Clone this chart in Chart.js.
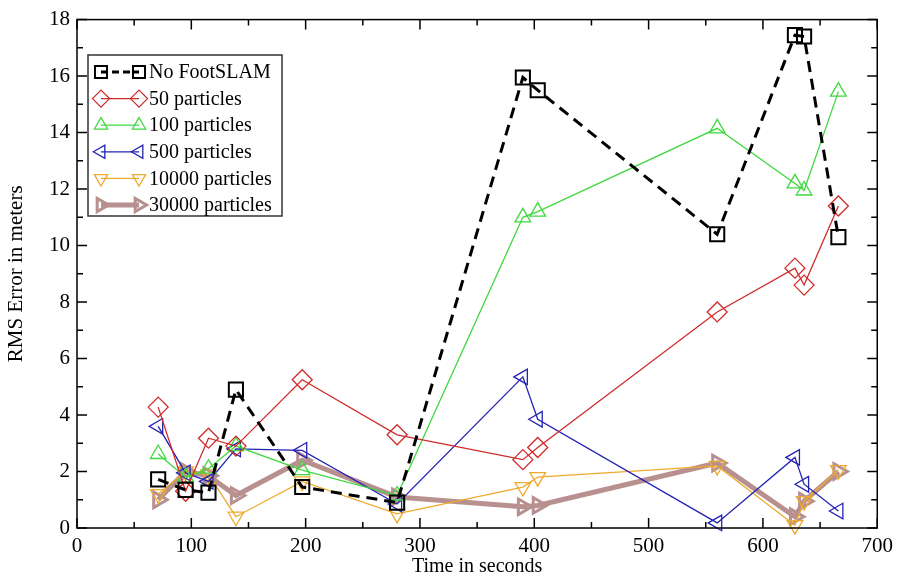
<!DOCTYPE html>
<html>
<head>
<meta charset="utf-8">
<script src="https://cdn.jsdelivr.net/npm/chart.js@4.4.1/dist/chart.umd.min.js"></script>
<style>
  html, body { margin: 0; padding: 0; background: #fff; }
  #wrap { width: 899px; height: 579px; }
</style>
</head>
<body>
<div id="wrap"><canvas id="grafico"></canvas></div>
<script>
// datos
const tiempos = [71, 95, 115, 139, 197, 280, 390, 403, 560, 628, 636, 666];
const sinFootSlam = [1.72, 1.35, 1.25, 4.9, 1.45, 0.9, 15.95, 15.5, 10.4, 17.45, 17.4, 10.3];
const p50 = [4.28, 1.3, 3.18, 2.9, 5.25, 3.3, 2.42, 2.85, 7.65, 9.2, 8.6, 11.4];
const p100 = [2.62, 1.8, 2.1, 2.9, 2.05, 1.15, 11.0, 11.2, 14.15, 12.2, 11.95, 15.45];
const p500 = [3.6, 1.95, 1.65, 2.8, 2.75, 0.85, 5.35, 3.85, 0.18, 2.5, 1.55, 0.6];
const p10000 = [1.2, 2.0, 1.9, 0.4, 1.65, 0.5, 1.45, 1.8, 2.2, 0.1, 0.95, 2.05];
const p30000 = [1.0, 2.0, 1.85, 1.15, 2.4, 1.1, 0.75, 0.8, 2.3, 0.4, 0.95, 2.0];

const etiquetas = ['No FootSLAM', '50 particles', '100 particles', '500 particles', '10000 particles', '30000 particles'];
const xTicks = [0, 100, 200, 300, 400, 500, 600, 700];
const yTicks = [0, 2, 4, 6, 8, 10, 12, 14, 16, 18];

const fuente = 'Liberation Serif, Times New Roman, serif';

function puntos(valores) {
    return tiempos.map((t, i) => ({ x: t, y: valores[i] }));
}

const series = [
    { data: sinFootSlam, color: '#000000', ancho: 3, dash: [11, 7], estilo: 'rect', rot: 0, radio: 10, bw: 2 },
    { data: p50, color: '#d02a2a', ancho: 1.3, dash: [], estilo: 'rectRot', rot: 0, radio: 10, bw: 1.3 },
    { data: p100, color: '#3fd83f', ancho: 1.3, dash: [], estilo: 'triangle', rot: 0, radio: 9, bw: 1.3 },
    { data: p500, color: '#2424b4', ancho: 1.3, dash: [], estilo: 'triangle', rot: -90, radio: 9, bw: 1.3 },
    { data: p10000, color: '#eeaa2e', ancho: 1.3, dash: [], estilo: 'triangle', rot: 180, radio: 9, bw: 1.3 },
    { data: p30000, color: '#b89090', ancho: 5, dash: [], estilo: 'triangle', rot: 90, radio: 9, bw: 3 }
];

// ticks hacia adentro en los cuatro lados + marco
const marcoPlugin = {
    id: 'marco',
    afterDraw(chart) {
        const ctx = chart.ctx;
        const a = chart.chartArea;
        const sx = chart.scales.x, sy = chart.scales.y;
        ctx.save();
        ctx.strokeStyle = '#000';
        ctx.lineWidth = 1.5;
        ctx.strokeRect(a.left, a.top, a.right - a.left, a.bottom - a.top);
        ctx.beginPath();
        for (let v = 0; v <= 700; v += 50) {
            const px = sx.getPixelForValue(v);
            const largo = v % 100 === 0 ? 10 : 6;
            ctx.moveTo(px, a.bottom); ctx.lineTo(px, a.bottom - largo);
            ctx.moveTo(px, a.top); ctx.lineTo(px, a.top + largo);
        }
        for (let v = 0; v <= 18; v += 1) {
            const py = sy.getPixelForValue(v);
            const largo = v % 2 === 0 ? 10 : 6;
            ctx.moveTo(a.left, py); ctx.lineTo(a.left + largo, py);
            ctx.moveTo(a.right, py); ctx.lineTo(a.right - largo, py);
        }
        ctx.stroke();
        ctx.restore();
    }
};

// leyenda dibujada a mano (linea con dos marcadores)
const leyendaPlugin = {
    id: 'leyenda',
    afterDraw(chart) {
        const ctx = chart.ctx;
        ctx.save();
        ctx.fillStyle = '#fff';
        ctx.fillRect(88, 55, 194, 161);
        ctx.strokeStyle = '#333';
        ctx.lineWidth = 1.5;
        ctx.strokeRect(88, 55, 194, 161);
        series.forEach((s, i) => {
            const y = 72 + i * 26.6;
            const x1 = 101, x2 = 139;
            ctx.strokeStyle = s.color;
            ctx.lineWidth = s.ancho;
            ctx.setLineDash(s.dash.length ? [7, 4] : []);
            ctx.beginPath();
            ctx.moveTo(x1, y); ctx.lineTo(x2, y);
            ctx.stroke();
            ctx.setLineDash([]);
            ctx.fillStyle = 'rgba(0,0,0,0)';
            ctx.lineWidth = s.bw;
            [x1, x2].forEach(x => {
                Chart.helpers.drawPoint(ctx, {
                    pointStyle: s.estilo, rotation: s.rot, radius: s.radio * 0.85,
                    borderWidth: s.bw
                }, x, y);
            });
            ctx.fillStyle = '#000';
            ctx.font = '20px ' + fuente;
            ctx.textBaseline = 'middle';
            ctx.textAlign = 'left';
            ctx.fillText(etiquetas[i], 149, y + 1);
        });
        ctx.restore();
    }
};

const ctx = document.getElementById('grafico').getContext('2d');
const grafico = new Chart(ctx, {
    type: 'line',
    data: {
        datasets: series.map((s, i) => ({
            label: etiquetas[i],
            data: puntos(s.data),
            borderColor: s.color,
            borderWidth: s.ancho,
            borderDash: s.dash,
            pointStyle: s.estilo,
            pointRotation: s.rot,
            pointRadius: s.radio,
            pointBorderWidth: s.bw,
            pointBorderColor: s.color,
            pointBackgroundColor: 'rgba(0,0,0,0)',
            backgroundColor: 'rgba(0,0,0,0)',
            fill: false,
            tension: 0,
            clip: false
        }))
    },
    options: {
        responsive: true,
        maintainAspectRatio: false,
        animation: false,
        layout: { padding: { top: 16, right: 18, left: 0, bottom: 0 } },
        plugins: {
            legend: { display: false },
            tooltip: { enabled: false }
        },
        scales: {
            x: {
                type: 'linear',
                min: 0, max: 700,
                afterBuildTicks: s => { s.ticks = xTicks.map(v => ({ value: v })); },
                afterFit: s => { s.height = 51; },
                grid: { display: false, drawTicks: false },
                border: { display: false },
                ticks: { color: '#000', font: { family: fuente, size: 21 }, padding: 6 },
                title: { display: true, text: 'Time in seconds', color: '#000', font: { family: fuente, size: 20 }, padding: { top: 0, bottom: 0 } }
            },
            y: {
                type: 'linear',
                min: 0, max: 18,
                afterBuildTicks: s => { s.ticks = yTicks.map(v => ({ value: v })); },
                afterFit: s => { s.width = 77; },
                grid: { display: false, drawTicks: false },
                border: { display: false },
                ticks: { color: '#000', font: { family: fuente, size: 21 }, padding: 7 },
                title: { display: true, text: 'RMS Error in meters', color: '#000', font: { family: fuente, size: 21 }, padding: { top: 4, bottom: 6 } }
            }
        }
    },
    plugins: [marcoPlugin, leyendaPlugin]
});
</script>
</body>
</html>
